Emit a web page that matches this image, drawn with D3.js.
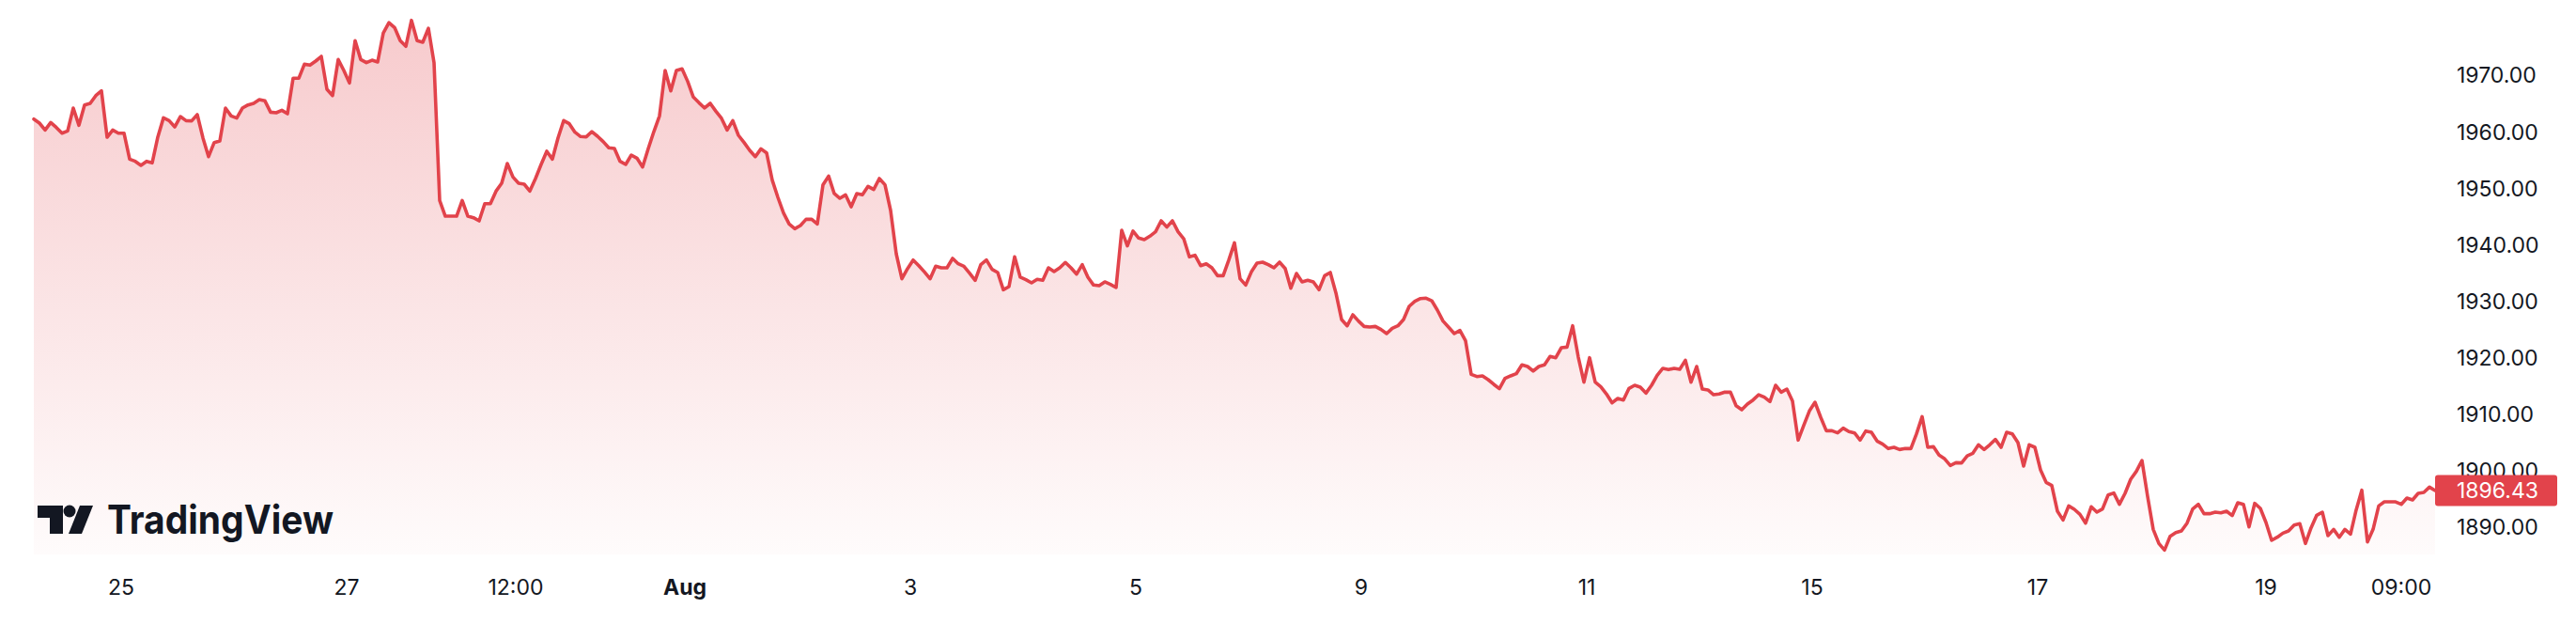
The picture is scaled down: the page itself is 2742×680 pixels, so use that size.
<!DOCTYPE html>
<html><head><meta charset="utf-8">
<script src="https://cdn.jsdelivr.net/npm/d3@7"></script>
<style>html,body{margin:0;padding:0;background:#fff;overflow:hidden}svg{display:block}</style>
</head><body><svg id="chart" width="2742" height="680"></svg>
<script>
// Close prices, one per bar (uniform bar spacing)
const closes = [
1962.26,1961.54,1960.32,1961.65,1960.76,1959.76,1960.15,1964.20,1961.15,1964.76,
1965.04,1966.42,1967.25,1959.04,1960.32,1959.76,1959.76,1955.16,1954.77,1954.05,
1954.77,1954.49,1959.10,1962.48,1961.98,1960.87,1962.70,1961.98,1961.93,1963.04,
1958.93,1955.60,1958.10,1958.38,1964.20,1962.82,1962.43,1964.20,1964.76,1965.04,
1965.70,1965.48,1963.48,1963.37,1963.81,1963.20,1969.48,1969.48,1971.97,1971.81,
1972.53,1973.36,1967.53,1966.42,1972.80,1970.86,1968.64,1976.14,1972.80,1972.25,
1972.69,1972.36,1977.52,1979.35,1978.47,1976.14,1975.14,1979.74,1976.14,1975.86,
1978.35,1972.25,1947.83,1945.05,1945.05,1945.05,1947.83,1945.05,1944.78,1944.22,
1947.27,1947.27,1949.49,1950.88,1954.38,1951.99,
1950.89,1950.72,1949.50,1951.72,1954.22,1956.55,1955.16,1958.93,1961.99,1961.43,
1959.93,1959.16,1959.10,1960.04,1959.21,1958.27,1957.16,1957.05,1954.77,1954.22,
1955.88,1955.33,1953.77,1956.99,1960.04,1962.82,1970.87,1967.26,1970.87,1971.14,
1968.93,1966.15,1965.15,1964.21,1965.04,1963.65,1962.38,1960.32,1961.99,1959.38,
1958.10,1956.72,1955.60,1956.99,1956.27,1951.44,1948.39,1945.61,1943.67,1942.84,
1943.40,1944.50,1944.50,1943.67,1950.61,1952.16,1949.06,1948.22,1948.83,1946.72,
1949.06,1948.83,1950.33,1949.78,1951.72,1950.61,1946.06,1938.40,1933.96,1935.74,
1937.29,1936.29,1935.18,1933.96,1936.18,1935.90,1935.90,1937.57,1936.62,1936.18,
1934.96,1933.68,1936.46,1937.29,1935.62,1935.07,
1932.02,1932.57,1937.85,1934.24,1933.79,1933.24,1933.85,1933.68,1935.90,1935.24,
1935.90,1936.85,1935.90,1934.79,1936.46,1934.24,1932.85,1932.74,1933.41,1932.96,
1932.41,1942.56,1939.79,1942.40,1941.17,1940.90,1941.51,1942.28,1944.23,1943.12,
1944.23,1942.28,1941.06,1937.85,1938.12,1936.29,1936.62,1935.90,1934.51,1934.51,
1937.29,1940.34,1933.96,1932.85,1935.18,1936.73,1936.90,1936.46,1935.90,1936.90,
1935.79,1932.29,1934.90,1933.41,1933.68,1933.41,1932.02,1934.51,1935.07,1931.46,
1926.75,1925.63,1927.58,1926.47,1925.52,1925.41,1925.52,1924.97,1924.25,1925.19,
1925.63,1926.75,1929.08,1929.96,1930.46,1930.52,1930.07,1928.41,1926.47,1925.36,
1924.25,1924.80,1922.97,1917.03,1916.64,1916.75,
1916.09,1915.26,1914.48,1916.31,1916.76,1917.14,1918.70,1918.42,1917.59,1918.42,
1918.70,1920.20,1919.97,1921.75,1921.86,1925.63,1920.08,1915.64,1919.97,1915.64,
1914.81,1913.54,1911.98,1912.76,1912.48,1914.54,1915.09,1914.76,1913.70,1915.09,
1916.87,1918.09,1917.86,1918.09,1917.92,1919.53,1915.64,1918.42,1914.42,1914.26,
1913.42,1913.54,1913.87,1913.87,1911.48,1910.76,1911.76,1912.48,1913.42,1912.98,
1912.20,1915.09,1913.87,1914.42,1912.31,1905.38,1907.99,1910.54,1912.09,1909.43,
1907.04,1907.04,1906.65,1907.49,1906.88,1906.65,1905.38,1906.99,1906.76,1905.21,
1904.66,1903.88,1904.10,1903.71,1903.88,1903.88,1906.49,1909.54,1904.10,1904.21,
1902.71,1902.05,1900.88,1901.38,1901.33,1902.60,
1903.05,1904.55,1903.71,1904.55,1905.49,1904.10,1906.77,1906.49,1904.93,1900.77,
1904.55,1904.10,1900.11,1897.89,1897.33,1892.78,1891.22,1893.72,1893.11,1892.22,
1890.67,1893.56,1892.61,1893.17,1895.66,1896.00,1894.00,1895.94,1898.44,1899.83,
1901.77,1895.39,1889.56,1887.06,1885.90,1888.34,1889.00,1889.28,1890.67,1893.17,
1894.00,1892.34,1892.34,1892.61,1892.50,1892.78,1892.00,1894.28,1894.00,1890.00,
1894.17,1893.28,1890.78,1887.62,1888.17,1888.89,1889.28,1890.34,1890.56,1887.06,
1889.84,1892.06,1892.61,1888.45,1889.56,1888.17,1889.56,1888.73,1893.00,1896.50,
1887.34,1889.56,1893.72,1894.44,1894.44,1894.44,1894.00,1895.11,1894.78,1895.94,
1896.11,1897.05,1896.43
];
// Price-scale ticks
const yTicks = [1890, 1900, 1910, 1920, 1930, 1940, 1950, 1960, 1970];
// Time-scale ticks: position in bar units and label
const xTickBars   = [15.5, 55.5, 85.5, 115.5, 155.5, 195.5, 235.5, 275.5, 315.5, 355.5, 396, 420];
const xTickLabels = ["25", "27", "12:00", "Aug", "3", "5", "9", "11", "15", "17", "19", "09:00"];
const boldTicks   = ["Aug"];
const lastPrice = 1896.43;

const W = 2742, H = 680;
const plotLeft = 36, plotRight = 2592, paneBottom = 590;
const red = "#e2434b";
const textColor = "#131722";
const font = "Inter, 'Noto Sans', sans-serif";

const svg = d3.select("#chart");
const x = d3.scaleLinear().domain([0, closes.length - 1]).range([plotLeft, plotRight]);
const y = d3.scaleLinear().domain([1890, 1970]).range([560.7, 80.2]);

const defs = svg.append("defs");
const grad = defs.append("linearGradient").attr("id", "areaGrad")
  .attr("gradientUnits", "userSpaceOnUse").attr("x1", 0).attr("x2", 0)
  .attr("y1", y(d3.max(closes))).attr("y2", paneBottom);
grad.append("stop").attr("offset", 0).attr("stop-color", red).attr("stop-opacity", 0.28);
grad.append("stop").attr("offset", 1).attr("stop-color", red).attr("stop-opacity", 0.02);

const area = d3.area().x((d, i) => x(i)).y0(paneBottom).y1(d => y(d));
const line = d3.line().x((d, i) => x(i)).y(d => y(d));

svg.append("path").datum(closes).attr("d", area).attr("fill", "url(#areaGrad)");
svg.append("path").datum(closes).attr("d", line).attr("fill", "none")
  .attr("stroke", red).attr("stroke-width", 3.6).attr("stroke-linejoin", "round").attr("stroke-linecap", "round");

// price scale labels
const yAxis = svg.append("g").attr("class", "y-axis");
yAxis.selectAll("text").data(yTicks).join("text")
  .attr("x", 2615).attr("y", d => y(d)).attr("dy", "0.36em")
  .attr("font-family", font).attr("font-size", 23).attr("fill", textColor)
  .text(d => d3.format(".2f")(d));

// time scale labels
const xAxis = svg.append("g").attr("class", "x-axis");
xAxis.selectAll("text").data(xTickBars).join("text")
  .attr("x", d => x(d)).attr("y", 625).attr("dy", "0.36em").attr("text-anchor", "middle")
  .attr("font-family", font).attr("font-size", 23).attr("fill", textColor)
  .attr("font-weight", (d, i) => boldTicks.includes(xTickLabels[i]) ? 700 : 400)
  .text((d, i) => xTickLabels[i]);

// last price label
const lp = svg.append("g");
lp.append("rect").attr("x", 2592).attr("y", y(lastPrice) - 16.5).attr("width", 130).attr("height", 33)
  .attr("rx", 3).attr("fill", red);
lp.append("text").attr("x", 2615).attr("y", y(lastPrice)).attr("dy", "0.36em")
  .attr("font-family", font).attr("font-size", 23).attr("fill", "#ffffff")
  .text(d3.format(".2f")(lastPrice));

// TradingView watermark
const logo = svg.append("g").attr("fill", textColor);
logo.append("path").attr("d", "M40,538 H67 V568 H53 V551 H40 Z");
logo.append("circle").attr("cx", 74).attr("cy", 544).attr("r", 6.5);
logo.append("path").attr("d", "M85,538 H99 L87,568 H73 Z");
logo.append("text").attr("x", 114).attr("y", 568).attr("font-family", font)
  .attr("font-weight", 700).attr("font-size", 42).attr("textLength", 241).attr("lengthAdjust", "spacingAndGlyphs")
  .text("TradingView");
</script></body></html>
